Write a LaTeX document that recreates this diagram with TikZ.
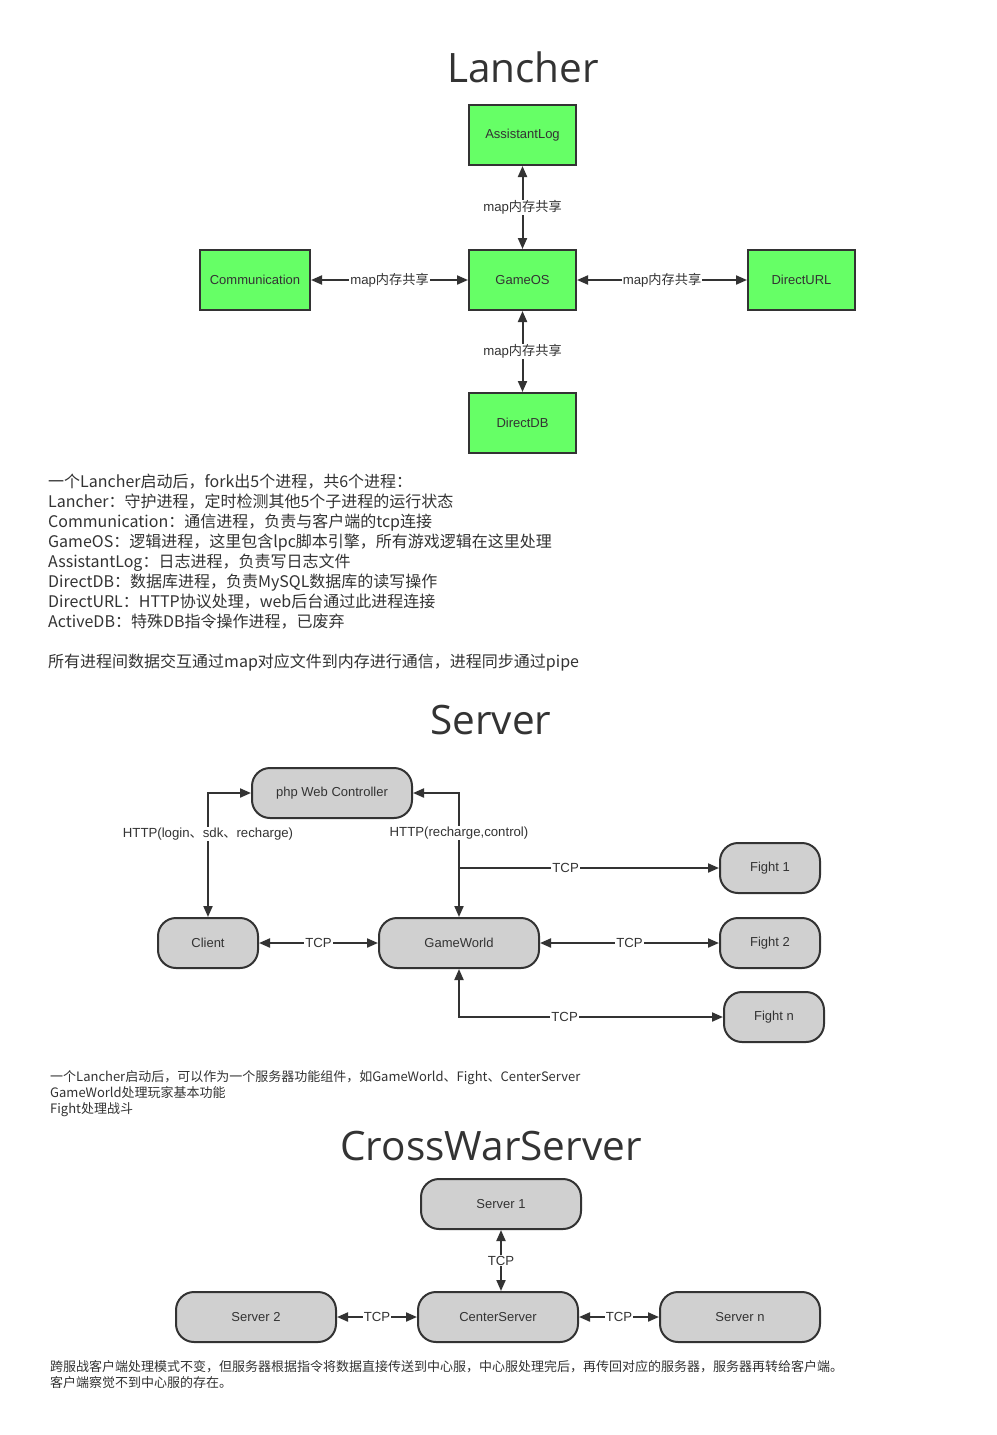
\documentclass[tikz,border=0pt]{standalone}
\usepackage{fontspec}
\setmainfont{Liberation Sans}
\newfontfamily\cjk{Noto Sans CJK SC}
\newfontfamily\titlefont{Open Sans}
\usetikzlibrary{arrows.meta}
\definecolor{lk}{HTML}{333333}
\definecolor{grn}{HTML}{66FF66}
\definecolor{gry}{HTML}{D0D0D0}
\begin{document}
\begin{tikzpicture}[x=1pt,y=-1pt,
 greenbox/.style={draw=lk,line width=2pt,fill=grn,minimum width=107pt,minimum height=60pt,inner sep=0pt,font=\fontsize{13}{15}\selectfont,text=lk},
 pill/.style={draw=lk,line width=2pt,fill=gry,rounded corners=18pt,minimum height=50pt,inner sep=0pt,font=\fontsize{13}{15}\selectfont,text=lk},
 link/.style={draw=lk,line width=2pt,{Triangle[length=11pt,width=9pt]}-{Triangle[length=11pt,width=9pt]}},
 onelink/.style={draw=lk,line width=2pt,-{Triangle[length=11pt,width=9pt]}},
 lbl/.style={fill=white,inner sep=1pt,font=\fontsize{13.2}{15}\selectfont,text=lk},
 para/.style={anchor=base west,inner sep=0pt,text=lk,font=\cjk\fontsize{16}{20}\selectfont},
 small/.style={anchor=base west,inner sep=0pt,text=lk,font=\cjk\fontsize{13}{16}\selectfont},
 title/.style={font=\titlefont\fontsize{40.5}{48}\selectfont,text=lk,inner sep=0pt}]
\useasboundingbox[fill=white] (0,0) rectangle (996,1435);

% ---------- Lancher ----------
\node[title] (t1) at (523,67) {Lancher};
\node[greenbox] (alog) at (522.5,135) {AssistantLog};
\node[greenbox,minimum width=110pt] (comm) at (255,280) {Communication};
\node[greenbox] (gos) at (522.5,280) {GameOS};
\node[greenbox] (durl) at (801.5,280) {DirectURL};
\node[greenbox] (ddb) at (522.5,423) {DirectDB};
\draw[link] (alog) -- node[lbl] {map{\cjk 内存共享}} (gos);
\draw[link] (comm) -- node[lbl] {map{\cjk 内存共享}} (gos);
\draw[link] (gos) -- node[lbl] {map{\cjk 内存共享}} (durl);
\draw[link] (gos) -- node[lbl] {map{\cjk 内存共享}} (ddb);

\node[para] (p1) at (48,487) {一个Lancher启动后，fork出5个进程，共6个进程：};
\node[para] (p2) at (48,507) {Lancher：守护进程，定时检测其他5个子进程的运行状态};
\node[para] (p3) at (48,527) {Communication：通信进程，负责与客户端的tcp连接};
\node[para] (p4) at (48,547) {GameOS：逻辑进程，这里包含lpc脚本引擎，所有游戏逻辑在这里处理};
\node[para] (p5) at (48,567) {AssistantLog：日志进程，负责写日志文件};
\node[para] (p6) at (48,587) {DirectDB：数据库进程，负责MySQL数据库的读写操作};
\node[para] (p7) at (48,607) {DirectURL：HTTP协议处理，web后台通过此进程连接};
\node[para] (p8) at (48,627) {ActiveDB：特殊DB指令操作进程，已废弃};
\node[para] (p9) at (48,667) {所有进程间数据交互通过map对应文件到内存进行通信，进程同步通过pipe};

% ---------- Server ----------
\node[title] (t2) at (491,720) {Server};
\node[pill,minimum width=160pt] (php) at (332,793) {php Web Controller};
\node[pill,minimum width=100pt] (cli) at (208,943) {Client};
\node[pill,minimum width=160pt] (gw) at (459,943) {GameWorld};
\node[pill,minimum width=100pt] (f1) at (770,868) {Fight 1};
\node[pill,minimum width=100pt] (f2) at (770,943) {Fight 2};
\node[pill,minimum width=100pt] (fn) at (774,1017) {Fight n};
\draw[link] (cli.north) |- node[lbl,pos=0.336] {HTTP(login{\cjk 、}sdk{\cjk 、}recharge)} (php.west);
\draw[link] (gw.north) |- node[lbl,pos=0.34] {HTTP(recharge,control)} (php.east);
\draw[onelink] (gw.north |- f1.west) -- node[lbl,pos=0.41] {TCP} (f1.west);
\draw[link] (cli) -- node[lbl] {TCP} (gw);
\draw[link] (gw) -- node[lbl] {TCP} (f2);
\draw[link] (gw.south) |- node[lbl,pos=0.70] {TCP} (fn.west);

\node[small] (s1) at (50,1081) {一个Lancher启动后，可以作为一个服务器功能组件，如GameWorld、Fight、CenterServer};
\node[small] (s2) at (50,1097) {GameWorld处理玩家基本功能};
\node[small] (s3) at (50,1113) {Fight处理战斗};

% ---------- CrossWarServer ----------
\node[title] (t3) at (491,1146) {CrossWarServer};
\node[pill,minimum width=160pt] (sv1) at (501,1204) {Server 1};
\node[pill,minimum width=160pt] (sv2) at (256,1317) {Server 2};
\node[pill,minimum width=160pt] (csv) at (498,1317) {CenterServer};
\node[pill,minimum width=160pt] (svn) at (740,1317) {Server n};
\draw[link] (sv1.south) -- node[lbl] {TCP} (sv1.south |- csv.north);
\draw[link] (sv2) -- node[lbl] {TCP} (csv);
\draw[link] (csv) -- node[lbl] {TCP} (svn);

\node[small] (b1) at (50,1371) {跨服战客户端处理模式不变，但服务器根据指令将数据直接传送到中心服，中心服处理完后，再传回对应的服务器，服务器再转给客户端。};
\node[small] (b2) at (50,1387) {客户端察觉不到中心服的存在。};
\end{tikzpicture}
\end{document}
